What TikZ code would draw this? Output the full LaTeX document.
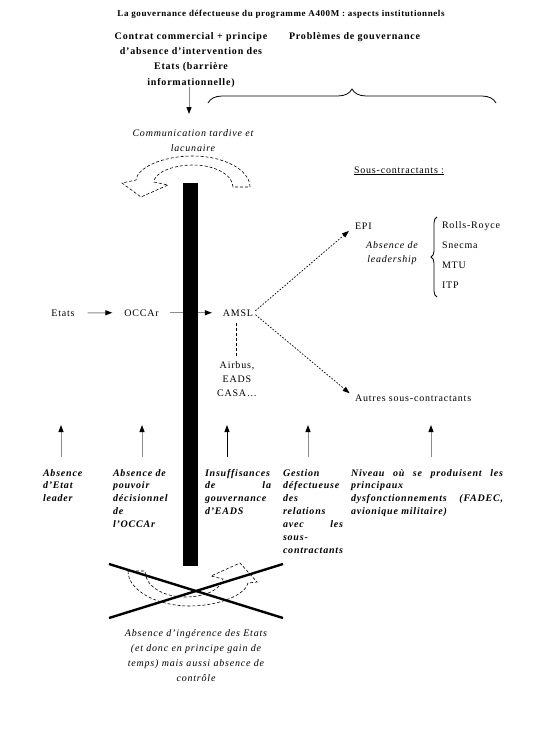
\documentclass[tikz,border=0pt]{standalone}
\usepackage{fontspec}
\setmainfont{Liberation Serif}[LetterSpace=8]
\newfontfamily\titlefont{Liberation Serif}[LetterSpace=6.5]
\usetikzlibrary{arrows.meta,decorations.pathreplacing}
\newcommand{\justline}[2]{\leavevmode\hbox to #1{#2}}
\begin{document}
\begin{tikzpicture}[x=1pt,y=-1pt,
  every node/.style={inner sep=0pt,outer sep=0pt},
  txt/.style={font=\fontsize{10}{13}\selectfont},
  boldtxt/.style={font=\fontsize{10}{15.4}\selectfont\bfseries},
  ittxt/.style={font=\fontsize{10}{15.2}\selectfont\itshape},
  labtxt/.style={font=\fontsize{10}{12.9}\selectfont\bfseries\itshape, align=left},
  tipblack/.style={-{Triangle[length=7pt,width=5pt,color=black]}},
  grayarrow/.style={tipblack, draw=black!45, line width=1pt},
  blackarrow/.style={tipblack, draw=black, line width=0.8pt},
  dotarrow/.style={-{Triangle[length=7pt,width=5pt]}, line width=0.7pt, dash pattern=on 1.6pt off 1.6pt},
  dashline/.style={line width=0.7pt, dash pattern=on 3pt off 2pt},
  curvarrow/.style={line width=0.6pt, dash pattern=on 3pt off 2pt},
  bracestyle/.style={decorate, line width=0.8pt},
]
\useasboundingbox (0,0) rectangle (543,734);

% title and header
\node[anchor=base, font=\titlefont\fontsize{9}{11}\selectfont\bfseries] (title) at (281,16)
  {La gouvernance défectueuse du programme A400M : aspects institutionnels};
\node[anchor=base, boldtxt, text width=175pt, align=center] (contrat) at (191,39)
  {Contrat commercial + principe\\ d’absence d’intervention des\\ Etats (barrière\\ informationnelle)};
\node[anchor=base west, boldtxt] (problemes) at (289,39) {Problèmes de gouvernance};
\draw[bracestyle, decoration={brace, amplitude=14pt, aspect=0.5}] (208,103) -- (496,103);

\node[anchor=base, ittxt, text width=140pt, align=center] (comm) at (193,136)
  {Communication tardive et\\ lacunaire};
\draw[grayarrow, shorten >=15pt] (contrat.south -| 189,0) -- (comm.north -| 189,0);

% top curved dashed arrow
\draw[curvarrow] (250,187) .. controls (250,170) and (224,156) .. (193,156)
  .. controls (162,156) and (137,168) .. (136,180)
  -- (122,183) -- (141,197) -- (168,185) -- (154,182)
  .. controls (154,173) and (172,165) .. (193,165)
  .. controls (215,165) and (233,175) .. (233,187) -- cycle;

% bottom curved dashed arrow
\draw[curvarrow] (128,571) .. controls (128,590) and (156,606) .. (190,606)
  .. controls (220,606) and (246,594) .. (248,583)
  -- (257,582) -- (240,563) -- (211,576) -- (223,579)
  .. controls (221,589) and (206,597) .. (185,597)
  .. controls (163,597) and (145,586) .. (145,571) -- cycle;

% middle row
\node[anchor=base, txt] (etats) at (63,316) {Etats};
\node[anchor=base, txt] (occar) at (141.5,316) {OCCAr};
\node[anchor=base, txt] (amsl) at (238,316) {AMSL};
\draw[grayarrow, shorten <=13pt, shorten >=12pt] (etats) -- (occar);
\draw[grayarrow, shorten <=11pt, shorten >=11pt] (occar) -- (amsl);

% the barrier
\node[fill=black, minimum width=15.5pt, minimum height=383pt, anchor=north west] (barrier) at (182.5,183) {};

\node[anchor=base, txt, text width=50pt, align=center, font=\fontsize{10}{14}\selectfont] (airbus) at (237,368)
  {Airbus,\\ EADS\\ CASA…};
\draw[dashline, shorten <=7pt, shorten >=4pt] (amsl.south -| 236,0) -- (airbus.north -| 236,0);

% subcontractors
\node[anchor=base west, txt] (sous) at (354,173) {\underline{Sous-contractants :}};
\node[anchor=base west, txt] (epi) at (355,229) {EPI};
\node[anchor=base, ittxt, text width=70pt, align=center, font=\fontsize{10}{14}\selectfont\itshape] (leader) at (392,248)
  {Absence de\\ leadership};
\draw[bracestyle, decoration={brace, amplitude=6pt}] (437,297) -- (437,217);
\node[anchor=base west, text width=80pt, align=left, font=\fontsize{10}{20.3}\selectfont] (firms) at (442,228)
  {Rolls-Royce\\ Snecma\\ MTU\\ ITP};
\node[anchor=base west, txt] (autres) at (355,401) {Autres sous-contractants};
\draw[dotarrow, shorten <=3pt, shorten >=8pt] (amsl.east) -- (epi.west);
\draw[dotarrow, shorten <=3pt, shorten >=7pt] (amsl.east) -- (autres.west);

% bottom labels
\node[anchor=base west, labtxt, text width=42pt] (lab1) at (43,476)
  {Absence\\ d’Etat\\ leader};
\node[anchor=base west, labtxt, text width=57pt] (lab2) at (113,476)
  {Absence de\\ pouvoir\\ décisionnel\\ de\\ l’OCCAr};
\node[anchor=base west, labtxt, text width=66pt] (lab3) at (205,476)
  {Insuffisances\\ \justline{66pt}{de\hfill la}\\ gouvernance\\ d’EADS};
\node[anchor=base west, labtxt, text width=60pt] (lab4) at (283,476)
  {Gestion\\ défectueuse\\ des\\ relations\\ \justline{60pt}{avec\hfill les}\\ sous-\\ contractants};
\node[anchor=base west, labtxt, text width=152pt] (lab5) at (351,476)
  {\justline{152pt}{Niveau\hfill où\hfill se\hfill produisent\hfill les}\\ principaux\\ \justline{152pt}{dysfonctionnements\hfill (FADEC,}\\ avionique militaire)};

\coordinate (t1) at (61,425);
\coordinate (t2) at (142,425);
\coordinate (t3) at (227,425);
\coordinate (t4) at (308,425);
\coordinate (t5) at (431,425);
\draw[grayarrow, shorten <=12pt] (lab1.north -| t1) -- (t1);
\draw[grayarrow, shorten <=12pt] (lab2.north -| t2) -- (t2);
\draw[blackarrow, shorten <=12pt] (lab3.north -| t3) -- (t3);
\draw[grayarrow, shorten <=12pt] (lab4.north -| t4) -- (t4);
\draw[grayarrow, shorten <=12pt] (lab5.north -| t5) -- (t5);

% crossed-out bottom
\draw[line width=2.4pt] (109,564) -- (283,618);
\draw[line width=2.4pt] (109,618) -- (283,564);

\node[anchor=base, ittxt, text width=175pt, align=center] (ingerence) at (196,636)
  {Absence d’ingérence des Etats\\ (et donc en principe gain de\\ temps) mais aussi absence de\\ contrôle};
\end{tikzpicture}
\end{document}
